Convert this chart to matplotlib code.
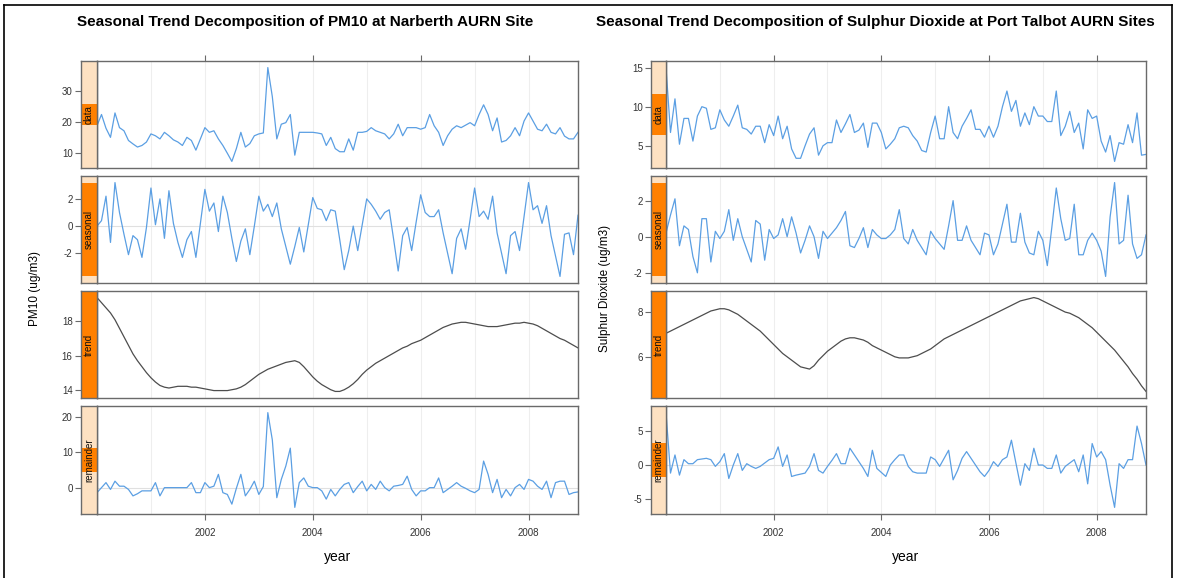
import numpy as np
import matplotlib.pyplot as plt
from matplotlib.lines import Line2D

plt.rcParams['font.family'] = ['Liberation Sans', 'DejaVu Sans']
plt.rcParams['axes.unicode_minus'] = False

# monthly STL components, Jan 2000 - Dec 2008
start_year = 2000

pm10_data = [
    18.8, 22.4, 18.0, 15.1, 22.9, 18.2, 17.2, 14.1, 13.0, 12.0, 12.5, 13.6,
    16.2, 15.6, 14.6, 16.7, 15.6, 14.3, 13.6, 12.5, 15.1, 14.1, 11.0, 14.6,
    18.2, 16.7, 17.2, 14.6, 12.5, 10.0, 7.4, 11.5, 16.7, 12.0, 13.1, 15.6,
    16.2, 16.5, 37.4, 28.1, 14.6, 19.3, 19.8, 22.4, 9.4, 16.7, 16.7, 16.7,
    16.7, 16.5, 16.2, 12.5, 15.1, 11.5, 10.5, 10.5, 14.6, 11.0, 16.7, 16.7,
    17.0, 18.2, 17.2, 16.7, 16.2, 14.6, 16.2, 19.3, 15.6, 18.2, 18.2, 18.2,
    17.7, 18.2, 22.4, 18.8, 16.7, 12.5, 15.6, 17.7, 18.8, 18.2, 19.0, 19.8,
    18.8, 22.4, 25.5, 22.4, 17.2, 21.3, 13.6, 14.1, 15.6, 18.2, 15.6, 20.3,
    22.9, 20.3, 17.7, 17.2, 19.3, 16.7, 16.2, 18.2, 15.5, 14.6, 14.6, 16.7,
]
pm10_seasonal = [
    0.0, 0.4, 2.2, -1.2, 3.2, 1.0, -0.6, -2.1, -0.7, -1.0, -2.3, -0.1,
    2.8, 0.1, 2.0, -0.9, 2.6, 0.2, -1.2, -2.3, -1.0, -0.4, -2.3, 0.2,
    2.7, 1.1, 1.7, -0.4, 2.2, 1.0, -0.9, -2.6, -1.1, -0.2, -2.1, 0.0,
    2.2, 1.1, 1.6, 0.7, 1.7, -0.2, -1.5, -2.8, -1.5, -0.1, -1.9, 0.1,
    2.1, 1.3, 1.2, 0.4, 1.2, 1.1, -1.0, -3.2, -1.8, 0.0, -1.8, 0.1,
    2.0, 1.6, 1.1, 0.5, 1.0, 1.2, -1.0, -3.3, -0.7, -0.1, -1.8, 0.3,
    2.3, 1.0, 0.7, 0.7, 1.2, -0.5, -2.0, -3.5, -0.9, -0.2, -1.7, 0.5,
    2.8, 0.7, 1.1, 0.5, 2.2, -0.5, -2.0, -3.5, -0.7, -0.4, -1.8, 0.7,
    3.2, 1.2, 1.5, 0.2, 1.5, -0.7, -2.2, -3.7, -0.6, -0.5, -2.1, 0.8,
]
pm10_trend = [
    19.4, 19.1, 18.8, 18.5, 18.1, 17.6, 17.1, 16.6, 16.1, 15.7, 15.35, 15.0,
    14.7, 14.45, 14.25, 14.15, 14.1, 14.15, 14.2, 14.2, 14.2, 14.15, 14.15, 14.1,
    14.05, 14.0, 13.95, 13.95, 13.95, 13.95, 14.0, 14.05, 14.15, 14.3, 14.5, 14.7,
    14.9, 15.05, 15.2, 15.3, 15.4, 15.5, 15.6, 15.65, 15.7, 15.6, 15.35, 15.05,
    14.75, 14.5, 14.3, 14.15, 14.0, 13.9, 13.9, 14.0, 14.15, 14.35, 14.6, 14.9,
    15.15, 15.35, 15.55, 15.7, 15.85, 16.0, 16.15, 16.3, 16.45, 16.55, 16.7, 16.8,
    16.9, 17.05, 17.2, 17.35, 17.5, 17.65, 17.75, 17.85, 17.9, 17.95, 17.95, 17.9,
    17.85, 17.8, 17.75, 17.7, 17.7, 17.7, 17.75, 17.8, 17.85, 17.9, 17.9, 17.95,
    17.9, 17.85, 17.75, 17.6, 17.45, 17.3, 17.15, 17.0, 16.9, 16.75, 16.6, 16.45,
]
pm10_remainder = [
    -1.2, 0.2, 1.6, -0.3, 2.0, 0.6, 0.6, -0.3, -2.1, -1.5, -0.7, -0.7,
    -0.7, 1.6, -2.1, 0.2, 0.2, 0.2, 0.2, 0.2, 0.2, 1.6, -1.2, -1.2,
    1.6, 0.2, 0.6, 3.9, -1.2, -1.7, -4.4, 0.0, 3.9, -2.1, -0.3, 2.0,
    -1.7, 0.5, 21.1, 13.5, -2.6, 2.5, 6.2, 11.2, -5.3, 1.6, 2.9, 0.6,
    0.2, 0.2, -0.7, -3.0, -0.3, -2.1, -0.3, 1.1, 1.6, -1.2, 0.5, 2.0,
    -0.7, 1.1, -0.3, 2.0, 0.2, -0.7, 0.6, 0.8, 1.1, 3.4, -0.3, -2.1,
    -0.7, -0.7, 0.2, 0.2, 2.9, -1.2, -0.3, 0.6, 1.6, 0.6, 0.0, -0.7,
    -1.2, -0.3, 7.6, 3.9, -1.2, 2.5, -2.6, -0.3, -2.1, 0.2, 1.1, -0.3,
    2.5, 2.0, 0.6, -0.3, 2.0, -2.6, 1.6, 2.0, 2.0, -1.7, -1.2, -1.0,
]

so2_data = [
    15.0, 6.7, 11.0, 5.2, 8.5, 8.5, 5.6, 8.8, 10.0, 9.8, 7.1, 7.3,
    9.6, 8.3, 7.5, 8.8, 10.2, 7.3, 7.1, 6.5, 7.5, 7.5, 5.4, 7.7,
    6.3, 8.8, 5.9, 7.5, 4.6, 3.4, 3.4, 5.0, 6.5, 7.3, 3.8, 5.0,
    5.4, 5.4, 8.3, 6.7, 7.8, 9.0, 6.7, 7.0, 7.9, 4.8, 7.9, 7.9,
    6.7, 4.6, 5.2, 5.9, 7.3, 7.5, 7.3, 6.3, 5.6, 4.4, 4.2, 6.7,
    8.8, 5.9, 5.9, 10.0, 6.7, 5.9, 7.5, 8.5, 9.6, 7.1, 7.1, 6.1,
    7.5, 6.1, 7.5, 10.0, 12.0, 9.4, 10.8, 7.5, 9.2, 7.7, 10.0, 8.8,
    8.8, 8.1, 8.1, 12.0, 6.3, 7.5, 9.4, 6.7, 7.9, 4.6, 9.6, 8.5,
    8.8, 5.6, 4.2, 6.3, 3.0, 5.4, 5.2, 7.7, 5.4, 9.2, 3.8, 3.9,
]
so2_seasonal = [
    0.2, 1.2, 2.1, -0.5, 0.6, 0.4, -1.1, -2.0, 1.0, 1.0, -1.4, 0.3,
    -0.1, 0.3, 1.5, -0.2, 1.0, 0.0, -0.7, -1.4, 0.9, 0.7, -1.3, 0.4,
    -0.1, 0.1, 1.0, 0.0, 1.1, 0.2, -0.9, -0.2, 0.6, 0.0, -1.2, 0.3,
    -0.1, 0.2, 0.5, 0.9, 1.4, -0.5, -0.6, -0.1, 0.5, -0.6, 0.4, 0.1,
    -0.1, -0.1, 0.1, 0.4, 1.5, -0.1, -0.4, 0.4, -0.2, -0.6, -1.0, 0.3,
    -0.1, -0.4, -0.7, 0.6, 2.0, -0.2, -0.2, 0.6, -0.2, -0.6, -1.0, 0.2,
    0.1, -1.0, -0.4, 0.7, 1.8, -0.3, -0.3, 1.3, -0.3, -0.9, -1.0, 0.3,
    -0.2, -1.6, 0.5, 2.7, 1.0, -0.2, -0.1, 1.8, -1.0, -1.0, -0.2, 0.2,
    -0.2, -0.8, -2.2, 1.1, 3.0, -0.4, -0.2, 2.3, -0.4, -1.2, -1.0, 0.1,
]
so2_trend = [
    7.05, 7.15, 7.25, 7.35, 7.45, 7.55, 7.65, 7.75, 7.85, 7.95, 8.05, 8.1,
    8.15, 8.15, 8.1, 8.0, 7.9, 7.75, 7.6, 7.45, 7.3, 7.15, 6.95, 6.75,
    6.55, 6.35, 6.15, 6.0, 5.85, 5.7, 5.55, 5.5, 5.45, 5.6, 5.85, 6.05,
    6.25, 6.4, 6.55, 6.7, 6.8, 6.85, 6.85, 6.8, 6.75, 6.65, 6.5, 6.4,
    6.3, 6.2, 6.1, 6.0, 5.95, 5.95, 5.95, 6.0, 6.05, 6.15, 6.25, 6.35,
    6.5, 6.65, 6.8, 6.9, 7.0, 7.1, 7.2, 7.3, 7.4, 7.5, 7.6, 7.7,
    7.8, 7.9, 8.0, 8.1, 8.2, 8.3, 8.4, 8.5, 8.55, 8.6, 8.65, 8.6,
    8.5, 8.4, 8.3, 8.2, 8.1, 8.0, 7.95, 7.85, 7.75, 7.6, 7.45, 7.3,
    7.1, 6.9, 6.7, 6.5, 6.3, 6.05, 5.8, 5.55, 5.25, 5.0, 4.7, 4.45,
]
so2_remainder = [
    7.8, -1.2, 1.5, -1.5, 0.8, 0.2, 0.2, 0.8, 0.9, 1.0, 0.8, -0.2,
    0.5, 1.7, -2.0, 0.0, 1.7, -0.8, 0.2, -0.2, -0.5, -0.2, 0.3, 0.8,
    1.0, 2.7, -0.2, 1.5, -1.7, -1.5, -1.35, -1.2, -0.2, 1.7, -0.8, -1.2,
    -0.2, 0.7, 1.7, 0.2, 0.2, 2.5, 1.5, 0.5, -0.5, -1.7, 2.2, -0.5,
    -1.1, -1.7, 0.0, 0.8, 1.5, 1.5, -0.2, -1.0, -1.2, -1.2, -1.2, 1.2,
    0.8, -0.2, 1.0, 2.2, -2.2, -0.8, 1.0, 2.0, 1.0, 0.0, -1.0, -1.7,
    -0.8, 0.5, -0.2, 0.8, 1.2, 3.7, 0.3, -3.0, 0.2, -0.8, 2.5, 0.0,
    0.0, -0.5, -0.5, 1.5, -1.2, -0.2, 0.3, 0.8, -1.0, 1.5, -2.8, 3.2,
    1.2, 2.0, 0.8, -3.0, -6.3, 0.2, -0.5, 0.8, 0.8, 5.8, 3.2, 0.0,
]

component_names = ['data', 'seasonal', 'trend', 'remainder']
year_ticks = [2002, 2004, 2006, 2008]
pm10_yticks = [[10, 20, 30], [-2, 0, 2], [14, 16, 18], [0, 10, 20]]
so2_yticks = [[5, 10, 15], [-2, 0, 2], [6, 8], [-5, 0, 5]]

W, H = 1180, 578
fig = plt.figure(figsize=(W / 100, H / 100), dpi=100)

line_blue = '#5b9fe3'
trend_col = '#4d4d4d'
strip_light = '#fde1c2'
strip_dark = '#ff8000'
frame_col = '#6a6a6a'

rows = [(61, 168), (176, 283), (291, 398), (406, 514)]


def box(x0, y0, x1, y1):
    # pixel box (top-left origin) -> figure fraction
    return [x0 / W, 1 - y1 / H, (x1 - x0) / W, (y1 - y0) / H]


def draw_stl(series, yticks, strip_x, plot_x, ylabel, title, title_x):
    n = len(series[0])
    t = start_year + np.arange(n) / 12.0
    bar_h = max(series[1]) - min(series[1])   # same data height in every strip

    for k, (vals, ticks, name, (y0, y1)) in enumerate(zip(series, yticks, component_names, rows)):
        vals = np.asarray(vals, dtype=float)
        lo, hi = vals.min(), vals.max()
        pad = 0.07 * (hi - lo)

        ax = fig.add_axes(box(plot_x[0], y0, plot_x[1], y1))
        sx = fig.add_axes(box(strip_x[0], y0, strip_x[1], y1))

        for yr in range(start_year + 1, start_year + 9):
            ax.axvline(yr, color='#eeeeee', lw=0.8, zorder=0)
        if name in ('seasonal', 'remainder'):
            ax.axhline(0, color='#e0e0e0', lw=0.8, zorder=0)

        col = trend_col if name == 'trend' else line_blue
        ax.plot(t, vals, color=col, lw=0.9)
        ax.set_xlim(t[0], t[-1])
        ax.set_ylim(lo - pad, hi + pad)
        ax.tick_params(left=False, labelleft=False)

        if k == 0:
            ax.xaxis.set_ticks_position('top')
            ax.set_xticks(year_ticks)
            ax.tick_params(axis='x', labeltop=False, length=4, color=frame_col)
        elif k == len(series) - 1:
            ax.set_xticks(year_ticks)
            ax.tick_params(axis='x', length=4, color=frame_col, labelsize=7,
                           labelcolor='#333333', pad=6)
            ax.set_xlabel('year', fontsize=10, labelpad=9)
        else:
            ax.set_xticks([])

        # strip with a scale bar of fixed data height
        mid = (lo + hi) / 2
        sx.set_facecolor(strip_light)
        sx.set_ylim(lo - pad, hi + pad)
        sx.set_xlim(0, 1)
        sx.axhspan(mid - bar_h / 2, mid + bar_h / 2, color=strip_dark, lw=0)
        sx.text(0.5, 0.5, name, rotation=90, transform=sx.transAxes,
                ha='center', va='center', fontsize=7, color='#111111')
        sx.set_xticks([])
        sx.set_yticks(ticks)
        sx.tick_params(axis='y', length=4, color=frame_col, labelsize=7,
                       labelcolor='#333333', pad=2)

        for a in (ax, sx):
            for sp in a.spines.values():
                sp.set_color(frame_col)
                sp.set_linewidth(1.0)

    fig.text(title_x / W, 1 - 22 / H, title, ha='center', va='center',
             fontsize=11, fontweight='bold')
    fig.text((strip_x[0] - 46) / W, 1 - 288 / H, ylabel, rotation=90,
             ha='center', va='center', fontsize=8.5)


draw_stl([pm10_data, pm10_seasonal, pm10_trend, pm10_remainder], pm10_yticks,
         (81, 97), (97, 578), 'PM10 (ug/m3)',
         'Seasonal Trend Decomposition of PM10 at Narberth AURN Site', 305)
draw_stl([so2_data, so2_seasonal, so2_trend, so2_remainder], so2_yticks,
         (651, 666), (666, 1146), 'Sulphur Dioxide (ug/m3)',
         'Seasonal Trend Decomposition of Sulphur Dioxide at Port Talbot AURN Sites', 875)

# outer frame
for xs, ys in [((4, 4), (5, H)), ((4, 1172), (5, 5)), ((1172, 1172), (5, H))]:
    fig.add_artist(Line2D([x / W for x in xs], [1 - y / H for y in ys],
                          color='black', lw=1.2))

fig.savefig('out.png', dpi=100)
